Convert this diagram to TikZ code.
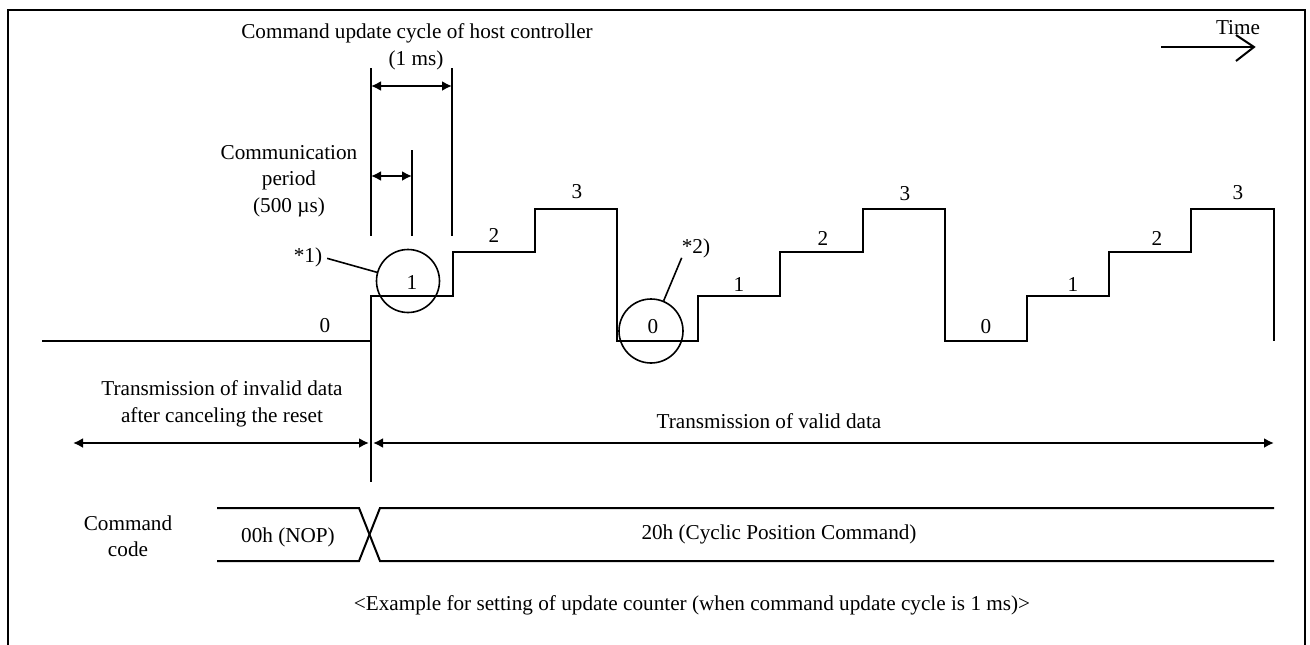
\documentclass[tikz,border=0pt]{standalone}
\usepackage{fontspec}
\setmainfont{Liberation Serif}
\usetikzlibrary{arrows.meta}
\begin{document}
\begin{tikzpicture}[x=1pt,y=-1pt,
  txt/.style={font=\fontsize{21.2}{26.5}\selectfont, inner sep=0pt, align=center},
  sig/.style={line width=2pt},
  thin/.style={line width=1.6pt},
  dimarrow/.style={line width=2pt, {Latex[length=10pt,width=10pt]}-{Latex[length=10pt,width=10pt]}},
  ring/.style={circle, draw, line width=1.6pt, minimum size=63pt, inner sep=0pt}]
\useasboundingbox (0,0) rectangle (1310,645);
% frame
\draw[line width=2pt] (8,645) -- (8,10) -- (1305,10) -- (1305,645);

% waveform
\draw[sig] (42,341) -- (371,341) -- (371,296) -- (453,296) -- (453,252) -- (535,252)
  -- (535,209) -- (617,209) -- (617,341) -- (698,341) -- (698,296) -- (780,296)
  -- (780,252) -- (863,252) -- (863,209) -- (945,209) -- (945,341) -- (1027,341)
  -- (1027,296) -- (1109,296) -- (1109,252) -- (1191,252) -- (1191,209) -- (1274,209)
  -- (1274,341);

% level labels
\node[txt] (l0a) at (325,326) {0};
\node[txt] (l1a) at (412,282) {1};
\node[txt] (l2a) at (494,235) {2};
\node[txt] (l3a) at (577,192) {3};
\node[txt] (l0b) at (653,327) {0};
\node[txt] (l1b) at (739,284) {1};
\node[txt] (l2b) at (823,238) {2};
\node[txt] (l3b) at (905,194) {3};
\node[txt] (l0c) at (986,327) {0};
\node[txt] (l1c) at (1073,284) {1};
\node[txt] (l2c) at (1157,238) {2};
\node[txt] (l3c) at (1238,193) {3};

% circles and notes
\node[ring] (c1) at (408,281) {};
\node[ring, minimum size=64pt] (c2) at (651,331) {};
\node[txt] (s1) at (308,257) {*1)};
\node[txt] (s2) at (696,248) {*2)};
\draw[thin, shorten <=5pt] (s1.east) -- (c1);
\draw[thin] (s2.south west) -- (c2);

% top dimension lines
\coordinate (t0a) at (371,68);  \coordinate (t0b) at (371,236);
\coordinate (t1a) at (452,68);  \coordinate (t1b) at (452,236);
\coordinate (thA) at (412,150); \coordinate (thB) at (412,236);
\draw[sig] (t0a) -- (t0b);
\draw[sig] (t1a) -- (t1b);
\draw[sig] (thA) -- (thB);
\coordinate (a1l) at (371,86);  \coordinate (a1r) at (452,86);
\coordinate (a2l) at (371,176); \coordinate (a2r) at (412,176);
\draw[dimarrow] (a1l) -- (a1r);
\draw[dimarrow] (a2l) -- (a2r);

\node[txt] (title) at (417,33) {Command update cycle of host controller};
\node[txt] (onems) at (416,60) {(1 ms)};
\node[txt] (comm) at (289,181) {Communication\\period\\(500 µs)};

% time arrow
\node[txt] (time) at (1238,28) {Time};
\coordinate (ta) at (1161,47); \coordinate (tb) at (1254,47);
\coordinate (tu) at (1236,35); \coordinate (td) at (1236,61);
\draw[sig] (ta) -- (tb);
\draw[sig, line join=miter] (tu) -- (tb) -- (td);

% reset boundary
\coordinate (rb0) at (371,341); \coordinate (rb1) at (371,482);
\draw[sig] (rb0) -- (rb1);
\coordinate (ia) at (73,443); \coordinate (ib) at (369,443);
\coordinate (va) at (373,443); \coordinate (vb) at (1274,443);
\draw[dimarrow] (ia) -- (ib);
\draw[dimarrow] (va) -- (vb);
\node[txt] (inv) at (222,404) {Transmission of invalid data\\after canceling the reset};
\node[txt] (val) at (769,421) {Transmission of valid data};

% command code bus
\node[txt] (cc) at (128,536) {Command\\code};
\draw[sig] (217,508) -- (359,508) -- (380,561) -- (1274,561);
\draw[sig] (217,561) -- (359,561) -- (380,508) -- (1274,508);
\node[txt] (nop) at (288,537) {00h (NOP)};
\node[txt] (cyc) at (779,534) {20h (Cyclic Position Command)};

\node[txt] (cap) at (692,605) {<Example for setting of update counter (when command update cycle is 1 ms)>};
\end{tikzpicture}
\end{document}
